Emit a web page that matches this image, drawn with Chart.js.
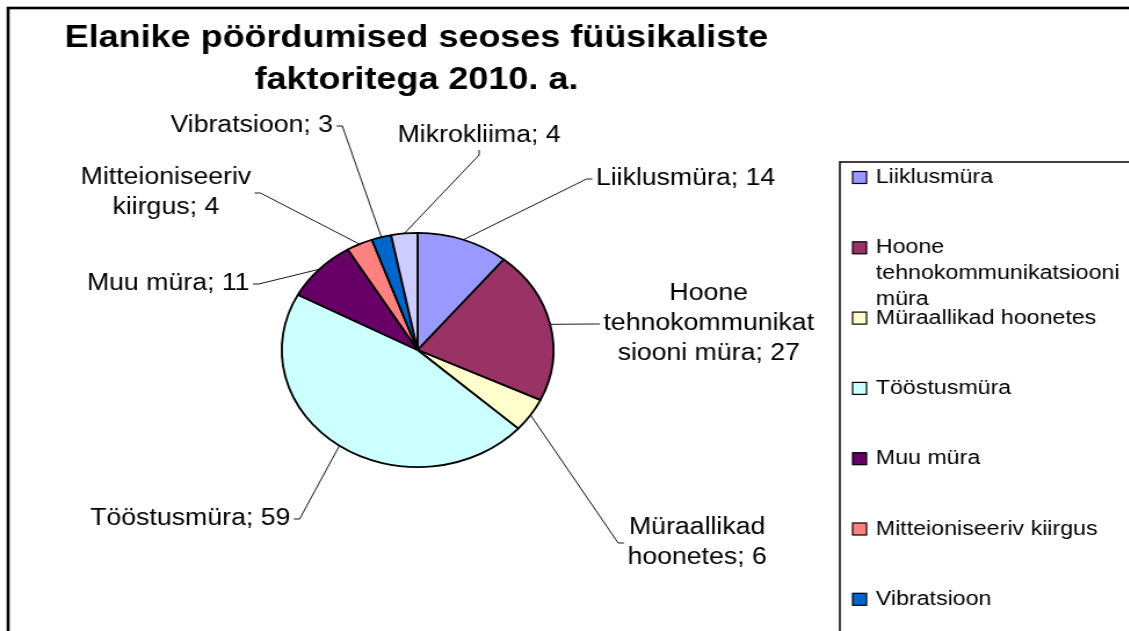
<!DOCTYPE html>
<html>
<head>
<meta charset="utf-8">
<script src="https://cdn.jsdelivr.net/npm/chart.js@4.4.1/dist/chart.umd.min.js"></script>
<style>
  html, body { margin: 0; padding: 0; background: #fff; overflow: hidden; }
  /* the original picture is stretched sideways, so is this one */
  #wrap { width: 973px; height: 631px; transform: scaleX(1.16); transform-origin: 0 0; }
</style>
</head>
<body>
<div id="wrap"><canvas id="pie" width="973" height="631"></canvas></div>
<script>
// data
const titleLines = ["Elanike pöördumised seoses füüsikaliste", "faktoritega 2010. a."];
const categories = [
  "Liiklusmüra",
  "Hoone tehnokommunikatsiooni müra",
  "Müraallikad hoonetes",
  "Tööstusmüra",
  "Muu müra",
  "Mitteioniseeriv kiirgus",
  "Vibratsioon",
  "Mikrokliima"
];
const counts = [14, 27, 6, 59, 11, 4, 3, 4];
const sliceColors = ["#9999FF", "#993366", "#FFFFCC", "#CCFFFF", "#660066", "#FF8080", "#0066CC", "#CCCCFF"];

// where each data label sits (centre x, first baseline, side the leader line leaves from)
const labelLayout = [
  { x: 591, y: 185, side: "l" },
  { x: 611, y: 300, side: "l" },
  { x: 601, y: 534, side: "l" },
  { x: 164, y: 525, side: "r" },
  { x: 145, y: 290, side: "r" },
  { x: 143, y: 184, side: "r" },
  { x: 217, y: 132, side: "r" },
  { x: 413, y: 142, side: "b" }
];

const FONT = "'Liberation Sans', Arial, sans-serif";

// break text into lines, splitting long words by letters like Excel does
function wrapText(ctx, text, maxW) {
  const lines = [];
  let cur = "";
  text.split(" ").forEach(w => {
    const test = cur ? cur + " " + w : w;
    if (ctx.measureText(test).width <= maxW) { cur = test; return; }
    if (cur) lines.push(cur);
    cur = "";
    for (const ch of w) {
      if (cur && ctx.measureText(cur + ch).width > maxW) { lines.push(cur); cur = ch; }
      else cur += ch;
    }
  });
  if (cur) lines.push(cur);
  return lines;
}

// frame, title and legend
const decor = {
  id: "decor",
  beforeDraw(chart) {
    const ctx = chart.ctx;
    ctx.save();
    ctx.fillStyle = "#fff";
    ctx.fillRect(0, 0, chart.width, chart.height);

    // outer chart border
    ctx.strokeStyle = "#000";
    ctx.lineWidth = 2.6;
    ctx.strokeRect(7, 8, chart.width + 20, chart.height + 20);

    // title
    ctx.fillStyle = "#000";
    ctx.font = "bold 31px " + FONT;
    ctx.textAlign = "center";
    ctx.textBaseline = "alphabetic";
    titleLines.forEach((t, i) => ctx.fillText(t, 359, 47 + i * 42));

    // legend box
    ctx.lineWidth = 1.6;
    ctx.strokeStyle = "#111";
    ctx.strokeRect(724, 162, 400, 600);

    ctx.font = "20px " + FONT;
    ctx.textAlign = "left";
    categories.forEach((c, i) => {
      const base = 183 + i * 70.3;
      ctx.fillStyle = sliceColors[i];
      ctx.fillRect(735, base - 11.5, 12, 12);
      ctx.lineWidth = 1.2;
      ctx.strokeStyle = "#000";
      ctx.strokeRect(735, base - 11.5, 12, 12);
      ctx.fillStyle = "#000";
      wrapText(ctx, c, 215).forEach((line, k) => ctx.fillText(line, 755, base + k * 26));
    });
    ctx.restore();
  },
  afterDatasetsDraw(chart) {
    const ctx = chart.ctx;
    const arcs = chart.getDatasetMeta(0).data;
    ctx.save();
    ctx.font = "23px " + FONT;
    ctx.textAlign = "center";
    ctx.textBaseline = "alphabetic";
    ctx.strokeStyle = "#000";
    ctx.lineWidth = 0.9;
    arcs.forEach((arc, i) => {
      const pos = labelLayout[i];
      const lines = wrapText(ctx, categories[i] + "; " + counts[i], 187);
      const lh = 30;
      const w = Math.max(...lines.map(l => ctx.measureText(l).width));
      const top = pos.y - 17;
      const bottom = pos.y + (lines.length - 1) * lh + 5;
      const mid = (top + bottom) / 2;

      // leader line from the slice edge to the label
      const a = (arc.startAngle + arc.endAngle) / 2;
      const ax = arc.x + Math.cos(a) * arc.outerRadius;
      const ay = arc.y + Math.sin(a) * arc.outerRadius;
      let p1, p2;
      if (pos.side === "l") {
        p1 = [pos.x - w / 2 - 3, mid]; p2 = [pos.x - w / 2 - 8, mid];
      } else if (pos.side === "r") {
        p1 = [pos.x + w / 2 + 3, mid]; p2 = [pos.x + w / 2 + 8, mid];
      } else {
        p1 = [pos.x, bottom + 3]; p2 = [pos.x, bottom + 8];
      }
      ctx.beginPath();
      ctx.moveTo(p1[0], p1[1]);
      ctx.lineTo(p2[0], p2[1]);
      ctx.lineTo(ax, ay);
      ctx.stroke();

      ctx.fillStyle = "#000";
      lines.forEach((line, k) => ctx.fillText(line, pos.x, pos.y + k * lh));
    });
    ctx.restore();
  }
};

new Chart(document.getElementById("pie"), {
  type: "pie",
  data: {
    labels: categories,
    datasets: [{
      data: counts,
      backgroundColor: sliceColors,
      borderColor: "#000",
      borderWidth: 1.8
    }]
  },
  options: {
    responsive: false,
    animation: false,
    layout: { padding: { left: 242, right: 495, top: 232, bottom: 163 } },
    plugins: {
      legend: { display: false },
      title: { display: false },
      tooltip: { enabled: false }
    }
  },
  plugins: [decor]
});
</script>
</body>
</html>
